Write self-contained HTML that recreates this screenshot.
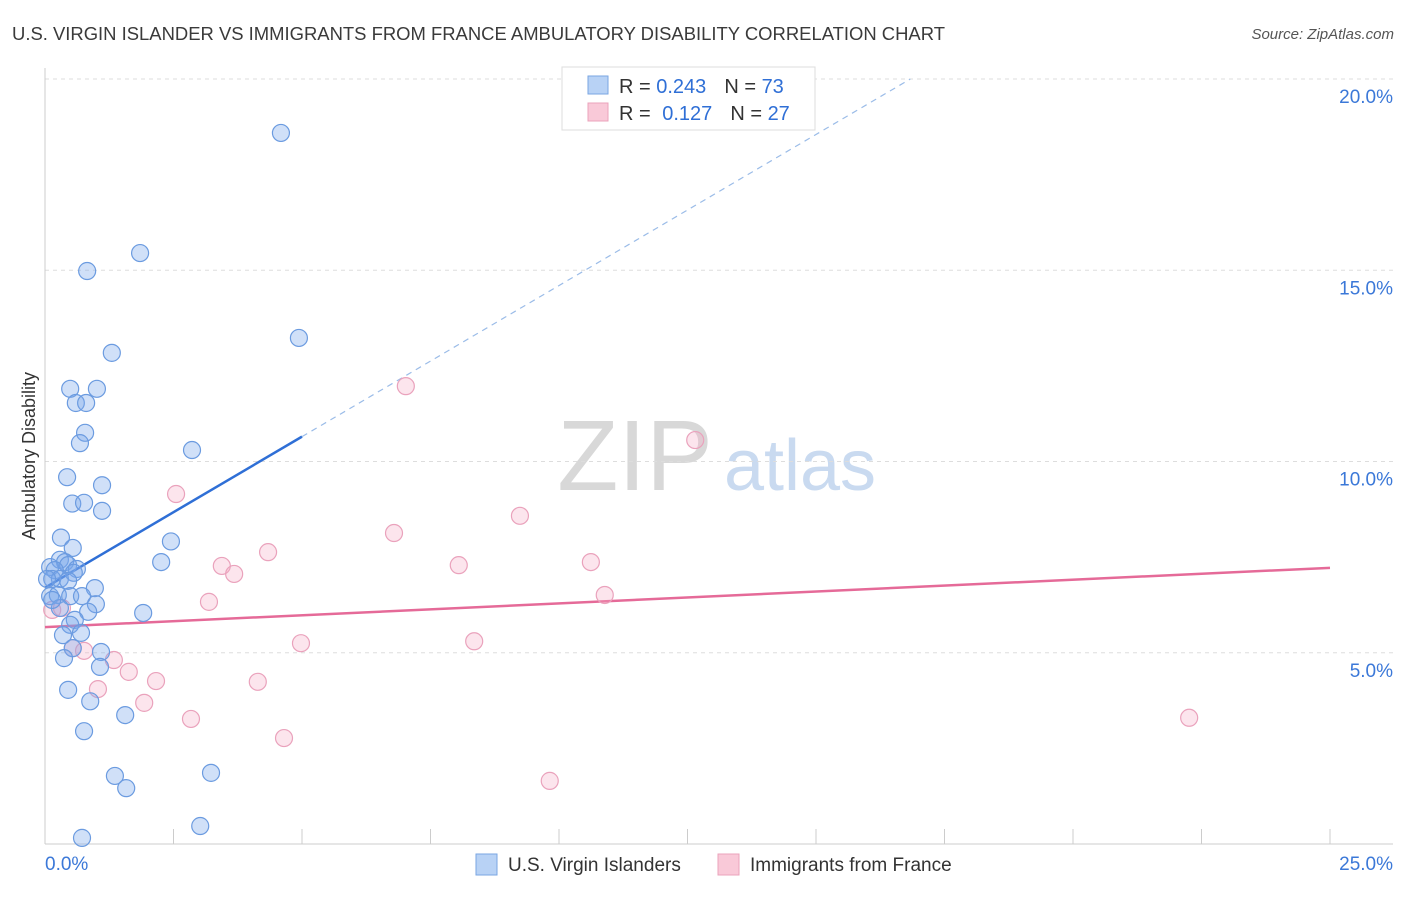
<!DOCTYPE html>
<html><head><meta charset="utf-8"><style>
body{margin:0;background:#fff;font-family:"Liberation Sans",sans-serif;}
svg text{font-family:"Liberation Sans",sans-serif;}
</style></head><body>
<svg id="chart" width="1406" height="892" xmlns="http://www.w3.org/2000/svg">
<text x="12" y="40" font-size="18.45" fill="#3a3a3a">U.S. VIRGIN ISLANDER VS IMMIGRANTS FROM FRANCE AMBULATORY DISABILITY CORRELATION CHART</text>
<text x="1394" y="39" font-size="15" fill="#555" font-style="italic" text-anchor="end">Source: ZipAtlas.com</text>
<g>
<text x="635" y="490" font-size="100" fill="#d8d8d8" font-family="Liberation Serif" text-anchor="middle">ZIP</text>
<text x="800" y="490" font-size="72" fill="#c9daf0" text-anchor="middle">atlas</text>
</g>
<g id="grid"></g><g id="axes"></g><g id="trends"></g><g id="pts"></g>
<text x="35" y="456" font-size="18" fill="#333" text-anchor="middle" transform="rotate(-90 35 456)">Ambulatory Disability</text>
<g>
<rect x="562" y="67" width="253" height="63" fill="#fff" stroke="#ddd"/>
<rect x="588" y="76" width="20" height="18" fill="#b8d2f5" stroke="#7aa6e2"/>
<rect x="588" y="103" width="20" height="18" fill="#f9c9d8" stroke="#eba3bb"/>
<text x="619" y="93" font-size="20" fill="#333">R = <tspan fill="#2f6fd6">0.243</tspan><tspan dx="18">N = </tspan><tspan fill="#2f6fd6">73</tspan></text>
<text x="619" y="120" font-size="20" fill="#333">R = <tspan fill="#2f6fd6" dx="6">0.127</tspan><tspan dx="18">N = </tspan><tspan fill="#2f6fd6">27</tspan></text>
</g>
<g>
<rect x="476" y="854" width="21" height="21" fill="#b8d2f5" stroke="#7aa6e2"/>
<text x="508" y="871" font-size="19" fill="#333">U.S. Virgin Islanders</text>
<rect x="718" y="854" width="21" height="21" fill="#f9c9d8" stroke="#eba3bb"/>
<text x="750" y="871" font-size="19" fill="#333">Immigrants from France</text>
</g>
</svg>
<script>
const xTicks=[0,2.5,5,7.5,10,12.5,15,17.5,20,22.5,25];
const yTicks=[5,10,15,20];
const yTickLabels=["5.0%","10.0%","15.0%","20.0%"];
const blueX=[4.59,1.85,0.82,4.94,1.30,0.49,1.01,0.60,0.80,0.78,0.68,2.86,0.43,1.11,0.53,0.76,1.11,2.45,0.31,0.54,2.26,0.29,0.39,0.45,0.10,0.19,0.62,0.56,0.14,0.29,0.45,0.97,0.10,0.25,0.49,0.72,0.99,0.29,0.84,1.91,0.58,0.49,0.70,0.35,0.54,1.09,0.37,1.07,0.45,0.88,1.56,0.76,1.36,3.23,1.58,3.02,0.72,0.14,0.04];
const blueY=[18.59,15.45,14.98,13.23,12.84,11.90,11.90,11.53,11.53,10.75,10.48,10.30,9.59,9.38,8.90,8.92,8.71,7.91,8.01,7.74,7.37,7.43,7.37,7.29,7.24,7.16,7.19,7.09,6.93,6.93,6.88,6.69,6.48,6.51,6.48,6.48,6.27,6.17,6.07,6.04,5.86,5.73,5.52,5.46,5.12,5.02,4.86,4.63,4.03,3.73,3.37,2.95,1.78,1.86,1.46,0.47,0.16,6.38,6.93];
const pinkX=[7.02,12.65,2.55,9.24,6.79,4.34,10.62,3.44,8.05,3.68,10.89,3.19,0.14,0.33,4.98,8.35,0.54,0.76,1.34,1.63,2.16,4.14,1.03,1.93,2.84,4.65,9.82,22.26];
const pinkY=[11.97,10.56,9.15,8.58,8.13,7.63,7.37,7.27,7.29,7.06,6.51,6.33,6.12,6.17,5.25,5.30,5.12,5.05,4.81,4.50,4.26,4.24,4.05,3.69,3.27,2.77,1.65,3.30];
const blueTrend=[6.7,0.79]; // intercept, slope
const pinkTrend=[5.67,0.062];
const NS="http://www.w3.org/2000/svg";
const sx=v=>45+v*51.4, sy=v=>844-v*38.25;
function mk(tag,at,parent){const e=document.createElementNS(NS,tag);for(const k in at)e.setAttribute(k,at[k]);parent.appendChild(e);return e;}
const grid=document.getElementById('grid'),axes=document.getElementById('axes'),tr=document.getElementById('trends'),pts=document.getElementById('pts');
yTicks.forEach((t,i)=>{
 const l=mk('line',{x1:45,x2:1393,y1:sy(t),y2:sy(t),stroke:'#ddd','stroke-dasharray':'4,4'},grid);
 
 
 const tx=mk('text',{x:1393,y:sy(t)+24,'font-size':19,fill:'#3b78d8','text-anchor':'end'},axes);
 tx.textContent=yTickLabels[i];
 
 
});
const yl=mk('line',{x1:45,x2:45,y1:68,y2:844,stroke:'#ccc'},axes);


const xl=mk('line',{x1:45,x2:1393,y1:844,y2:844,stroke:'#ccc'},axes);


xTicks.forEach(t=>{const l=mk('line',{x1:sx(t),x2:sx(t),y1:829,y2:844,stroke:'#ccc'},axes);
 
 });
[[0,"0.0%",'start',45],[25,"25.0%",'end',1393]].forEach(a=>{const t=mk('text',{x:a[3],y:870,'font-size':19,fill:'#3b78d8','text-anchor':a[2]},axes);t.textContent=a[1];
 
 });
const bs=mk('line',{x1:sx(0),y1:sy(blueTrend[0]),x2:sx(5),y2:sy(blueTrend[0]+5*blueTrend[1]),stroke:'#2f6fd6','stroke-width':2.5},tr);


const xe=(20-blueTrend[0])/blueTrend[1];
const bd=mk('line',{x1:sx(5),y1:sy(blueTrend[0]+5*blueTrend[1]),x2:sx(xe),y2:sy(20),stroke:'#9bbce8','stroke-width':1.2,'stroke-dasharray':'6,5'},tr);


const pl=mk('line',{x1:sx(0),y1:sy(pinkTrend[0]),x2:sx(25),y2:sy(pinkTrend[0]+25*pinkTrend[1]),stroke:'#e56a98','stroke-width':2.5},tr);


pinkX.forEach((v,i)=>{const c=mk('circle',{cx:sx(v),cy:sy(pinkY[i]),r:8.5,fill:'rgba(244,170,196,0.3)',stroke:'#eaa2bc','stroke-width':1.2},pts);
 
 });
blueX.forEach((v,i)=>{const c=mk('circle',{cx:sx(v),cy:sy(blueY[i]),r:8.5,fill:'rgba(120,165,235,0.35)',stroke:'#6b9be0','stroke-width':1.2},pts);
 
 });
</script>
</body></html>
